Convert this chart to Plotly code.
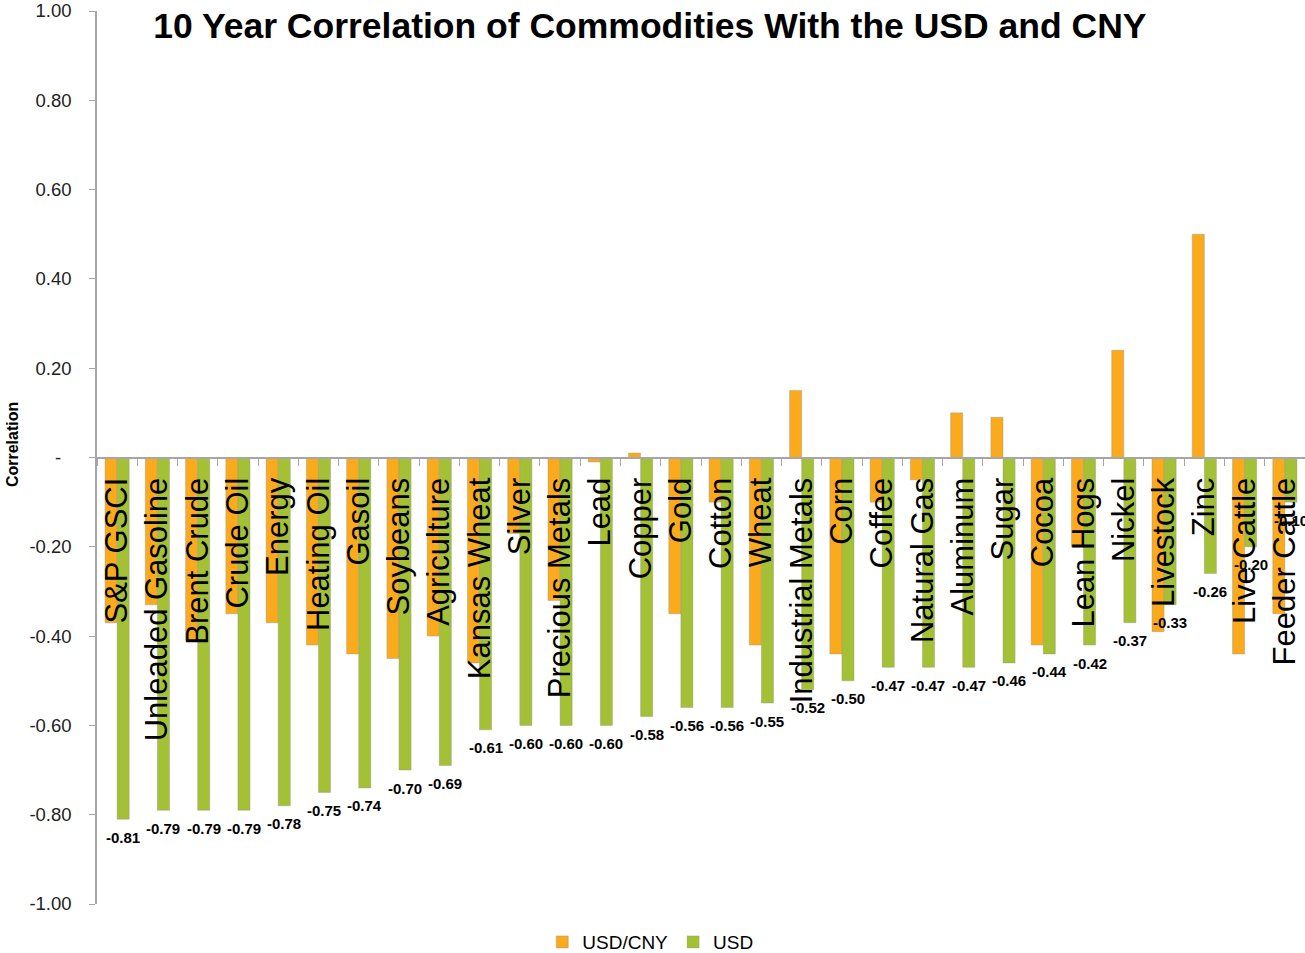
import plotly.graph_objects as go

categories = ["S&P GSCI", "Unleaded Gasoline", "Brent Crude", "Crude Oil", "Energy",
              "Heating Oil", "Gasoil", "Soybeans", "Agriculture", "Kansas Wheat",
              "Silver", "Precious Metals", "Lead", "Copper", "Gold", "Cotton", "Wheat",
              "Industrial Metals", "Corn", "Coffee", "Natural Gas", "Aluminum", "Sugar",
              "Cocoa", "Lean Hogs", "Nickel", "Livestock", "Zinc", "Live Cattle",
              "Feeder Cattle"]

usd_cny = [-0.37, -0.33, -0.41, -0.35, -0.37, -0.42, -0.44, -0.45, -0.40, -0.46,
           -0.17, -0.32, -0.01, 0.01, -0.35, -0.10, -0.42, 0.15, -0.44, -0.10,
           -0.05, 0.10, 0.09, -0.42, -0.20, 0.24, -0.39, 0.50, -0.44, -0.35]

usd = [-0.81, -0.79, -0.79, -0.79, -0.78, -0.75, -0.74, -0.70, -0.69, -0.61,
       -0.60, -0.60, -0.60, -0.58, -0.56, -0.56, -0.55, -0.52, -0.50, -0.47,
       -0.47, -0.47, -0.46, -0.44, -0.42, -0.37, -0.33, -0.26, -0.20, -0.10]

y_ticks = [1.0, 0.8, 0.6, 0.4, 0.2, 0.0, -0.2, -0.4, -0.6, -0.8, -1.0]
y_tick_text = ["1.00", "0.80", "0.60", "0.40", "0.20", "-\u00a0\u00a0", "-0.20",
               "-0.40", "-0.60", "-0.80", "-1.00"]

ORANGE = "#FBAA1C"
GREEN = "#A4C034"
FONT = "Arial, Liberation Sans, sans-serif"

fig = go.Figure()
fig.add_trace(go.Bar(x=categories, y=usd_cny, name="USD/CNY",
                     marker=dict(color=ORANGE, line=dict(color="rgba(150,150,150,0.7)", width=0.6))))
fig.add_trace(go.Bar(x=categories, y=usd, name="USD",
                     marker=dict(color=GREEN, line=dict(color="rgba(150,150,150,0.7)", width=0.6))))

annotations = []
for c, v in zip(categories, usd):
    annotations.append(dict(x=c, y=v, xref="x", yref="y", text=f"{v:.2f}",
                            showarrow=False, xshift=6, yshift=-18,
                            yanchor="middle", xanchor="center",
                            font=dict(family=FONT, size=15, color="black", weight="bold")))
annotations.append(dict(x=-0.0704, y=0.515, xref="paper", yref="paper", text="<b>Correlation</b>",
                        textangle=-90, showarrow=False, xanchor="center", yanchor="middle",
                        font=dict(family=FONT, size=16, color="black")))

fig.update_layout(
    width=1305, height=953,
    margin=dict(l=97, r=0, t=11, b=49, autoexpand=False),
    paper_bgcolor="white", plot_bgcolor="white",
    barmode="group", bargap=0.4, bargroupgap=0,
    title=dict(text="<b>10 Year Correlation of Commodities With the USD and CNY</b>",
               x=0.498, xanchor="center", y=1 - 26 / 953, yanchor="middle",
               font=dict(family=FONT, size=35.5, color="black")),
    font=dict(family=FONT, color="black"),
    xaxis=dict(type="category", anchor="free", position=0.5,
               range=[-0.5, len(categories) - 0.5],
               showline=True, linecolor="#A6A6A6", linewidth=1.5,
               ticks="outside", tickson="boundaries", ticklen=8, tickcolor="#A6A6A6",
               tickangle=-90, tickfont=dict(family=FONT, size=31, color="black"),
               ticklabelstandoff=7, showgrid=False, zeroline=False),
    yaxis=dict(range=[-1, 1], tickvals=y_ticks, ticktext=y_tick_text,
               showline=True, linecolor="#A6A6A6", linewidth=1.5,
               ticks="outside", ticklen=6, tickcolor="#A6A6A6",
               tickfont=dict(family=FONT, size=18.5, color="#222222"),
               ticklabelstandoff=14,
               showgrid=False, zeroline=False),
    legend=dict(orientation="h", x=0.458, xanchor="center", y=-0.0426, yanchor="middle",
                font=dict(family=FONT, size=19, color="black"), itemwidth=30,
                traceorder="normal"),
    annotations=annotations,
)

fig.write_html("out.html")
